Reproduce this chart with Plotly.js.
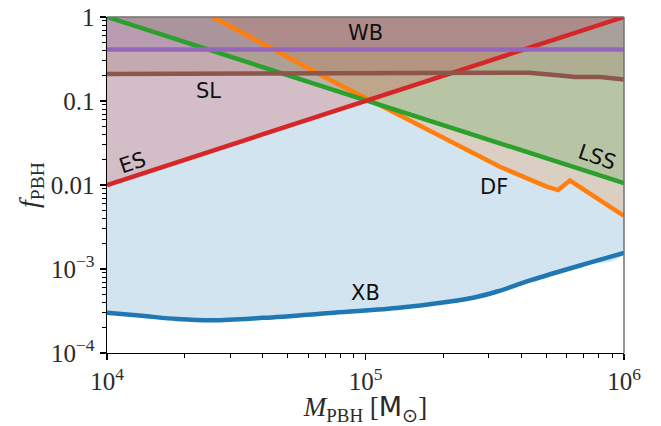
<!DOCTYPE html>
<html>
<head>
<meta charset="utf-8">
<script src="https://cdn.plot.ly/plotly-3.0.1.min.js"></script>
<style>html,body{margin:0;padding:0;background:#fff;}#chart{width:661px;height:426px;}</style>
</head>
<body>
<div id="chart"></div>
<script>
// ---- data ----
const xbM  = [1e4, 1.4e4, 1.87e4, 2.57e4, 4.01e4, 7.3e4, 1.32e5, 2.06e5, 2.61e5, 3.23e5, 4.33e5, 6.76e5, 1e6];
const xbF  = [3.02e-4, 2.75e-4, 2.54e-4, 2.45e-4, 2.62e-4, 2.99e-4, 3.43e-4, 4.05e-4, 4.55e-4, 5.4e-4, 7.3e-4, 1.1e-3, 1.55e-3];

const dfM  = [2.57e4, 7.3e4, 1.04e5, 1.45e5, 2.12e5, 3.31e5, 5.02e5, 5.56e5, 6.18e5, 1e6];
const dfF  = [1.0, 0.178, 0.103, 0.0609, 0.0343, 0.0165, 0.00955, 0.0087, 0.0113, 0.00428];

const lssM = [1e4, 1e6];
const lssF = [1.0, 0.0105];

const esM  = [1e4, 1e6];
const esF  = [0.01, 1.0];

const slM  = [1e4, 3e4, 1e5, 3e5, 4.3e5, 5.4e5, 6.5e5, 8.1e5, 8.8e5, 1e6];
const slF  = [0.21, 0.212, 0.215, 0.217, 0.217, 0.204, 0.193, 0.193, 0.188, 0.180];

const wbM  = [1e4, 1e6];
const wbF  = [0.41, 0.41];

const names  = ['XB', 'DF', 'LSS', 'ES', 'SL', 'WB'];
const colors = ['#1f77b4', '#ff7f0e', '#2ca02c', '#d62728', '#8c564b', '#9467bd'];
const fills  = ['rgba(31,119,180,0.2)', 'rgba(255,127,14,0.2)', 'rgba(44,160,44,0.2)',
                'rgba(214,39,40,0.2)', 'rgba(140,86,75,0.2)', 'rgba(148,103,189,0.2)'];
const series = [[xbM, xbF], [dfM, dfF], [lssM, lssF], [esM, esF], [slM, slF], [wbM, wbF]];

const xTickVals = [1e4, 1e5, 1e6];
const xTickText = ['10<sup>4</sup>', '10<sup>5</sup>', '10<sup>6</sup>'];
const yTickVals = [1e-4, 1e-3, 1e-2, 1e-1, 1];
const yTickText = ['10<sup>−4</sup>', '10<sup>−3</sup>', '0.01', '0.1', '1'];

// label annotations: [text, M, f, angle]
const labels = [
  ['WB', 1.0e5, 0.645, 0],
  ['SL', 2.48e4, 0.133, 0],
  ['ES', 1.25e4, 0.0185, -19],
  ['LSS', 7.85e5, 0.0217, 19],
  ['DF', 3.13e5, 0.00955, 0],
  ['XB', 1.0e5, 5.22e-4, 0]
];

// ---- build traces ----
const traces = [];
const topF = 1.0;
series.forEach((s, i) => {
  const xs = s[0].slice(), ys = s[1].slice();
  const last = xs[xs.length - 1], first = xs[0];
  traces.push({
    x: xs.concat([last, first]),
    y: ys.concat([topF, topF]),
    type: 'scatter', mode: 'lines', fill: 'toself',
    fillcolor: fills[i], line: {width: 0, color: 'rgba(0,0,0,0)', shape: i === 0 ? 'spline' : 'linear', smoothing: 1.0},
    hoverinfo: 'skip', showlegend: false
  });
});
series.forEach((s, i) => {
  traces.push({
    x: s[0], y: s[1], type: 'scatter', mode: 'lines', name: names[i],
    line: {color: colors[i], width: 4.5, shape: i === 0 ? 'spline' : 'linear', smoothing: 1.0},
    showlegend: false
  });
});

const minorX = [];
for (let d = 4; d < 6; d++) for (let k = 2; k <= 9; k++) minorX.push(k * Math.pow(10, d));
const minorY = [];
for (let d = -4; d < 0; d++) for (let k = 2; k <= 9; k++) minorY.push(k * Math.pow(10, d));

const tickFont = {family: 'Liberation Serif, serif', size: 25, color: '#2a2a2a'};

const layout = {
  width: 661, height: 426,
  margin: {l: 107, r: 37, t: 17, b: 73},
  paper_bgcolor: '#fff', plot_bgcolor: '#fff',
  showlegend: false,
  xaxis: {
    type: 'log', range: [4, 6], autorange: false,
    tickmode: 'array', tickvals: xTickVals, ticktext: xTickText,
    ticks: 'outside', ticklen: 6, tickwidth: 1.2, tickcolor: '#000',
    showline: true, linecolor: '#000', linewidth: 1.4,
    showgrid: false, zeroline: false,
    tickfont: tickFont,
    minor: {tickmode: 'array', tickvals: minorX, ticks: 'outside', ticklen: 3.5, tickwidth: 1, tickcolor: '#000', showgrid: false},
    title: {text: '<i>M</i><sub>PBH</sub> [<span style="font-family:DejaVu Sans">M</span><sub>⊙</sub>]',
            font: {family: 'Liberation Serif, serif', size: 27, color: '#2a2a2a'}, standoff: 4}
  },
  yaxis: {
    type: 'log', range: [-4, 0], autorange: false,
    tickmode: 'array', tickvals: yTickVals, ticktext: yTickText,
    ticks: 'outside', ticklen: 6, tickwidth: 1.2, tickcolor: '#000',
    showline: true, linecolor: '#000', linewidth: 1.4,
    showgrid: false, zeroline: false,
    tickfont: tickFont,
    minor: {tickmode: 'array', tickvals: minorY, ticks: 'outside', ticklen: 3.5, tickwidth: 1, tickcolor: '#000', showgrid: false},
    title: {text: '<i>f</i><sub>PBH</sub>',
            font: {family: 'Liberation Serif, serif', size: 28, color: '#2a2a2a'}, standoff: 4}
  },
  shapes: [
    {type: 'line', xref: 'paper', yref: 'paper', x0: 0, x1: 1, y0: 1, y1: 1, line: {color: '#707070', width: 1.5}},
    {type: 'line', xref: 'paper', yref: 'paper', x0: 1, x1: 1, y0: 0, y1: 1, line: {color: '#707070', width: 1.5}}
  ],
  annotations: labels.map(l => ({
    text: l[0], x: Math.log10(l[1]), y: Math.log10(l[2]), xref: 'x', yref: 'y',
    showarrow: false, textangle: l[3],
    font: {family: 'DejaVu Sans, sans-serif', size: 21, color: '#111'}
  }))
};

Plotly.newPlot('chart', traces, layout, {staticPlot: true, displayModeBar: false});
</script>
</body>
</html>
